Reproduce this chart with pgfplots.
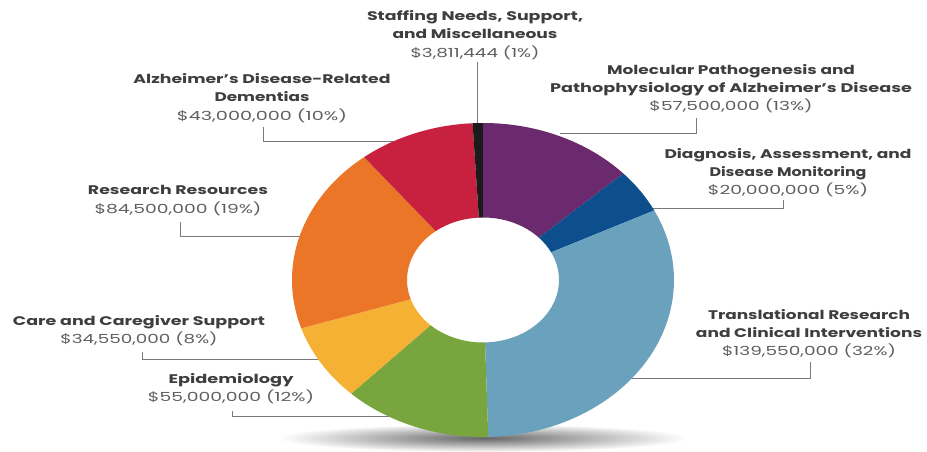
\documentclass[border=0pt]{standalone}
\usepackage{pgfplots}
\pgfplotsset{compat=1.18}
\usepackage{pgfplotstable}
\usepackage{graphicx}
\usepackage{fontspec}
\setmainfont{Poppins}
\usetikzlibrary{calc}

\definecolor{cPurple}{HTML}{6B2A6E}
\definecolor{cNavy}{HTML}{0D4F8D}
\definecolor{cSky}{HTML}{6AA2BE}
\definecolor{cGreen}{HTML}{78A53E}
\definecolor{cYellow}{HTML}{F5B134}
\definecolor{cOrange}{HTML}{EC7628}
\definecolor{cRed}{HTML}{C8213F}
\definecolor{cBlack}{HTML}{1C1A1C}
\definecolor{titlegray}{HTML}{3E3E40}
\definecolor{amtgray}{HTML}{5E5E60}
\definecolor{linegray}{HTML}{7A7A7A}

\tikzset{lbl/.style={align=center, text=titlegray, inner sep=0pt,
        font=\fontsize{12.5}{18.2}\selectfont}}
% one label line stretched to the width it has in the reference
\newcommand\tl[2]{\resizebox{#1pt}{\height}{\bfseries #2}}
\newcommand\am[2]{\resizebox{#1pt}{\height}{\color{amtgray}#2}}

% funding in millions of dollars, clockwise from the top
\pgfplotstableread[col sep=comma]{
label,value,color
Molecular,57.5,cPurple
Diagnosis,20,cNavy
Translational,139.55,cSky
Epidemiology,55,cGreen
Care,34.55,cYellow
Resources,84.5,cOrange
ADRD,43,cRed
Staffing,3.811444,cBlack
}\budget

\begin{document}
\begin{tikzpicture}
\begin{axis}[
    width=927pt, height=442pt, scale only axis,
    xmin=0, xmax=927, ymin=0, ymax=442,
    hide axis, clip=false,
]
\path (rel axis cs:0,0) (rel axis cs:1,1);

% shadow under the ring
\shade[inner color=black!60, outer color=white]
    (axis cs:483,4) ellipse [x radius=205pt, y radius=14pt];

% leader lines (drawn first, the ring covers their ends)
\draw[linegray, semithick] (axis cs:477,380) -- (axis cs:477,300);
\draw[linegray, semithick] (axis cs:263,315) -- (axis cs:263,301) -- (axis cs:405,301);
\draw[linegray, semithick] (axis cs:180,220) -- (axis cs:180,206) -- (axis cs:320,206);
\draw[linegray, semithick] (axis cs:142,90) -- (axis cs:142,83) -- (axis cs:330,83);
\draw[linegray, semithick] (axis cs:232,31) -- (axis cs:232,26) -- (axis cs:400,26);
\draw[linegray, semithick] (axis cs:696,324) -- (axis cs:696,309) -- (axis cs:560,309);
\draw[linegray, semithick] (axis cs:783,242) -- (axis cs:783,234) -- (axis cs:640,234);
\draw[linegray, semithick] (axis cs:810,80) -- (axis cs:810,64) -- (axis cs:620,64);

% ring slices from the table
\def\cx{483}\def\cy{162}
\def\rx{191}\def\ry{157}
\def\rxi{76}\def\ryi{62.5}
\def\total{437.911444}
\def\startAng{90}
\pgfplotsforeachungrouped \i in {0,...,7}{
    \pgfplotstablegetelem{\i}{value}\of\budget \let\sliceVal\pgfplotsretval
    \pgfplotstablegetelem{\i}{color}\of\budget \let\sliceCol\pgfplotsretval
    \pgfmathsetmacro\endAng{\startAng-\sliceVal/\total*360}
    \edef\temp{\noexpand\fill[\sliceCol]
        ($(axis cs:\cx,\cy)+(\startAng:\rx pt and \ry pt)$)
        arc[start angle=\startAng, end angle=\endAng, x radius=\rx pt, y radius=\ry pt]
        -- ($(axis cs:\cx,\cy)+(\endAng:\rxi pt and \ryi pt)$)
        arc[start angle=\endAng, end angle=\startAng, x radius=\rxi pt, y radius=\ryi pt]
        -- cycle;}
    \temp
    \let\startAng\endAng
}

% labels
\node[lbl] at (axis cs:475,407)
    {\tl{216}{Staffing Needs, Support,}\\ \tl{165}{and Miscellaneous}\\ \am{129}{\$3,811,444 (1\%)}};
\node[lbl] at (axis cs:731,353.5)
    {\tl{248}{Molecular Pathogenesis and}\\ \tl{362}{Pathophysiology of Alzheimer’s Disease}\\ \am{163}{\$57,500,000 (13\%)}};
\node[lbl] at (axis cs:788,269.5)
    {\tl{247}{Diagnosis, Assessment, and}\\ \tl{157}{Disease Monitoring}\\ \am{160}{\$20,000,000 (5\%)}};
\node[lbl] at (axis cs:809,108.5)
    {\tl{202}{Translational Research}\\ \tl{226}{and Clinical Interventions}\\ \am{174}{\$139,550,000 (32\%)}};
\node[lbl] at (axis cs:262,344)
    {\tl{257}{Alzheimer’s Disease-Related}\\ \tl{95}{Dementias}\\ \am{170}{\$43,000,000 (10\%)}};
\node[lbl] at (axis cs:178,241.5)
    {\tl{180}{Research Resources}\\ \am{167}{\$84,500,000 (19\%)}};
\node[lbl] at (axis cs:139,111)
    {\tl{252}{Care and Caregiver Support}\\ \am{157}{\$34,550,000 (8\%)}};
\node[lbl] at (axis cs:231,53)
    {\tl{125}{Epidemiology}\\ \am{166}{\$55,000,000 (12\%)}};
\end{axis}
\end{tikzpicture}
\end{document}
